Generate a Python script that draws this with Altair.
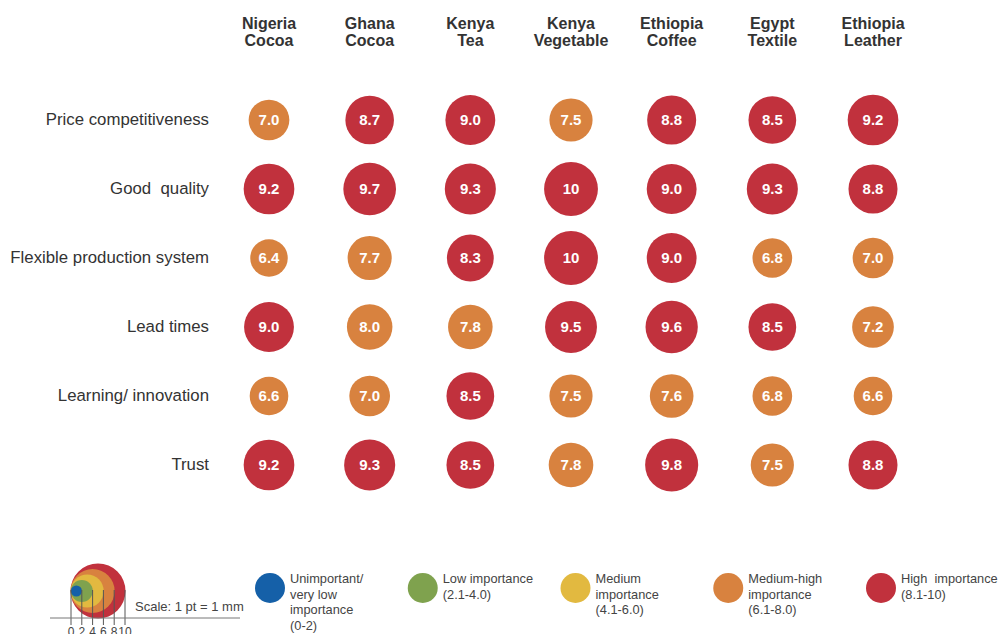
import altair as alt
import pandas as pd

# ---------------- data ----------------
countries = ["Nigeria", "Ghana", "Kenya", "Kenya", "Ethiopia", "Egypt", "Ethiopia"]
sectors = ["Cocoa", "Cocoa", "Tea", "Vegetable", "Coffee", "Textile", "Leather"]
factors = ["Price competitiveness", "Good\u00a0 quality", "Flexible production system",
           "Lead times", "Learning/ innovation", "Trust"]

price_competitiveness = [7.0, 8.7, 9.0, 7.5, 8.8, 8.5, 9.2]
good_quality = [9.2, 9.7, 9.3, 10, 9.0, 9.3, 8.8]
flexible_production = [6.4, 7.7, 8.3, 10, 9.0, 6.8, 7.0]
lead_times = [9.0, 8.0, 7.8, 9.5, 9.6, 8.5, 7.2]
learning_innovation = [6.6, 7.0, 8.5, 7.5, 7.6, 6.8, 6.6]
trust = [9.2, 9.3, 8.5, 7.8, 9.8, 7.5, 8.8]
series = [price_competitiveness, good_quality, flexible_production,
          lead_times, learning_innovation, trust]

legend_labels = ["Unimportant/\nvery low\nimportance\n(0-2)",
                 "Low importance\n(2.1-4.0)",
                 "Medium\nimportance\n(4.1-6.0)",
                 "Medium-high\nimportance\n\u00a0(6.1-8.0)",
                 "High\u00a0 importance\n(8.1-10)"]
legend_reps = [1, 3, 5, 7, 9]
scale_values = [10, 8, 6, 4, 2]
scale_ticks = [0, 2, 4, 6, 8, 10]

thresholds = [2.05, 4.05, 6.05, 8.05]
palette = ["#1560A8", "#7FA24E", "#E2B940", "#D8823F", "#C1313D"]

FONT = "Liberation Sans"
TEXT_COLOR = "#333333"

# ---------------- tables ----------------
cols = [f"{c}\n{s}" for c, s in zip(countries, sectors)]
main_rows = []
for f, vals in zip(factors, series):
    for c, v in zip(cols, vals):
        main_rows.append({"row": f, "col": c, "v": v})
main_df = pd.DataFrame(main_rows)
head_df = pd.DataFrame({"col": cols})
row_df = pd.DataFrame({"row": factors})
legend_df = pd.DataFrame({"cls": legend_labels, "rep": legend_reps})
scale_df = pd.DataFrame({"v": scale_values})
tick_df = pd.DataFrame({"tick": scale_ticks})

color_scale = alt.Scale(type="threshold", domain=thresholds, range=palette)

x_main = alt.X("col:N", sort=cols, axis=None,
               scale=alt.Scale(type="point", range=[261, 865], padding=0))
y_main = alt.Y("row:N", sort=factors, axis=None,
               scale=alt.Scale(type="point", range=[112, 457], padding=0))

bubbles = alt.Chart(main_df).mark_circle(opacity=1).encode(
    x=x_main, y=y_main,
    size=alt.Size("v:Q", legend=None,
                  scale=alt.Scale(type="linear", domain=[3, 10], range=[0, 2900], zero=False)),
    color=alt.Color("v:Q", scale=color_scale, legend=None),
)
values = alt.Chart(main_df).transform_calculate(
    label="datum.v == 10 ? '10' : format(datum.v, '.1f')"
).mark_text(font=FONT, fontSize=15, fontWeight="bold", color="white",
            align="center", baseline="middle").encode(
    x=x_main, y=y_main, text="label:N")

headers = alt.Chart(head_df).mark_text(
    font=FONT, fontSize=16, fontWeight="bold", color=TEXT_COLOR,
    align="center", baseline="middle", lineBreak="\n", lineHeight=17
).encode(x=x_main, y=alt.value(16), text="col:N")

row_labels = alt.Chart(row_df).mark_text(
    font=FONT, fontSize=16.8, color=TEXT_COLOR, align="right", baseline="middle"
).encode(x=alt.value(201), y=y_main, text="row:N")

main = alt.layer(bubbles, values, headers, row_labels)

# ---------------- legend ----------------
x_leg = alt.X("cls:N", sort=legend_labels, axis=None,
              scale=alt.Scale(type="point", range=[262, 873], padding=0))
leg_circles = alt.Chart(legend_df).mark_circle(size=900, opacity=1).encode(
    x=x_leg, y=alt.value(580),
    color=alt.Color("rep:Q", scale=color_scale, legend=None))
leg_text = alt.Chart(legend_df).mark_text(
    font=FONT, fontSize=12.8, color="#444444", align="left", baseline="top",
    lineBreak="\n", lineHeight=15.5, dx=20
).encode(x=x_leg, y=alt.value(565), text="cls:N")
legend = alt.layer(leg_circles, leg_text)

# ---------------- scale graphic ----------------
x_sc_scale = alt.Scale(domain=[0, 10], range=[63, 117], zero=True, nice=False)
sc_circles = alt.Chart(scale_df).transform_calculate(
    half="datum.v / 2"
).mark_circle(opacity=1).encode(
    x=alt.X("half:Q", scale=x_sc_scale, axis=None),
    y=alt.value(583),
    size=alt.Size("v:Q", legend=None,
                  scale=alt.Scale(type="pow", exponent=2, domain=[0, 10], range=[0, 3025])),
    color=alt.Color("v:Q", scale=color_scale, legend=None),
    order=alt.Order("v:Q", sort="descending"),
)
sc_ticks = alt.Chart(tick_df).mark_rule(color="#555555", strokeWidth=1).encode(
    x=alt.X("tick:Q", scale=x_sc_scale, axis=None),
    y=alt.value(582), y2=alt.value(617))
sc_base = alt.Chart(pd.DataFrame({"k": [0]})).mark_rule(color="#777777", strokeWidth=1).encode(
    x=alt.value(42), x2=alt.value(232), y=alt.value(610))
sc_labels = alt.Chart(tick_df).mark_text(
    font=FONT, fontSize=12, color="#444444", align="center", baseline="top"
).encode(x=alt.X("tick:Q", scale=x_sc_scale, axis=None), y=alt.value(619),
         text="tick:N")
sc_caption = alt.Chart(pd.DataFrame({"t": ["Scale: 1 pt = 1 mm"]})).mark_text(
    font=FONT, fontSize=13, color="#444444", align="left", baseline="middle"
).encode(x=alt.value(127), y=alt.value(599), text="t:N")
scale_graphic = alt.layer(sc_circles, sc_ticks, sc_base, sc_labels, sc_caption)

chart = alt.layer(main, legend, scale_graphic).resolve_scale(
    x="independent", y="independent", size="independent"
).properties(
    width=991, height=626,
    autosize=alt.AutoSizeParams(type="none"),
    padding={"left": 0, "top": 0, "right": 0, "bottom": 0},
    background="white",
).configure_view(stroke=None)

chart.save("out.html", embed_options={"renderer": "svg", "actions": False})
